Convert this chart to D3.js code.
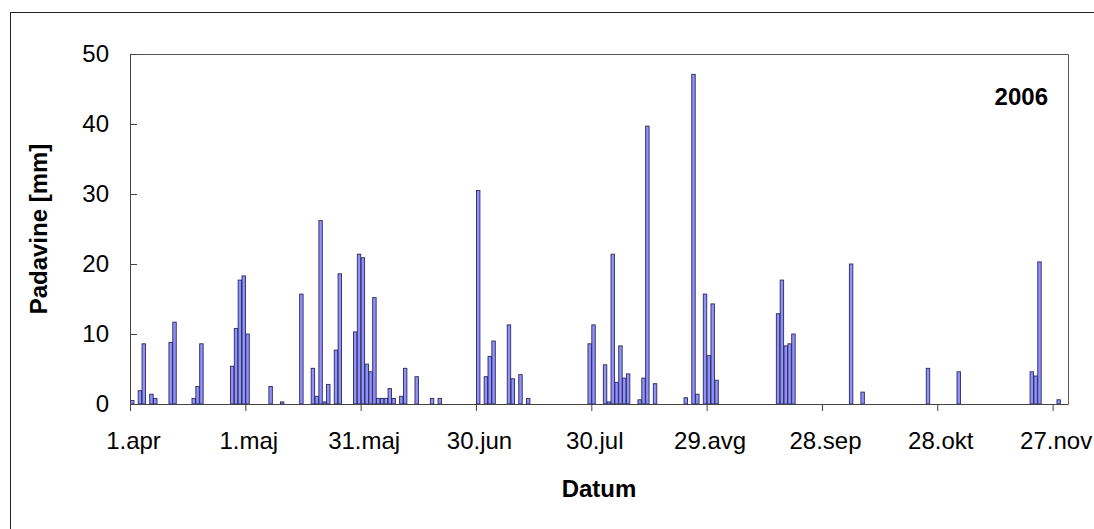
<!DOCTYPE html>
<html>
<head>
<meta charset="utf-8">
<script src="https://cdn.jsdelivr.net/npm/d3@7/dist/d3.min.js"></script>
<style>
  html, body { margin: 0; padding: 0; background: #fff; }
  svg { display: block; font-family: "Liberation Sans", Arial, sans-serif; }
</style>
</head>
<body>
<svg id="chart" width="1094" height="529"></svg>
<script>
// Daily precipitation, 1 April – 30 November 2006 (days without rain omitted)
const rainDates = [
  "2006-04-01","2006-04-03","2006-04-04","2006-04-06","2006-04-07",
  "2006-04-11","2006-04-12","2006-04-17","2006-04-18","2006-04-19",
  "2006-04-27","2006-04-28","2006-04-29","2006-04-30","2006-05-01",
  "2006-05-07","2006-05-10","2006-05-15","2006-05-18","2006-05-19",
  "2006-05-20","2006-05-21","2006-05-22","2006-05-24","2006-05-25",
  "2006-05-29","2006-05-30","2006-05-31","2006-06-01","2006-06-02",
  "2006-06-03","2006-06-04","2006-06-05","2006-06-06","2006-06-07",
  "2006-06-08","2006-06-10","2006-06-11","2006-06-14","2006-06-18",
  "2006-06-20","2006-06-30","2006-07-02","2006-07-03","2006-07-04",
  "2006-07-08","2006-07-09","2006-07-11","2006-07-13","2006-07-29",
  "2006-07-30","2006-08-02","2006-08-03","2006-08-04","2006-08-05",
  "2006-08-06","2006-08-07","2006-08-08","2006-08-11","2006-08-12",
  "2006-08-13","2006-08-15","2006-08-23","2006-08-25","2006-08-26",
  "2006-08-28","2006-08-29","2006-08-30","2006-08-31","2006-09-16",
  "2006-09-17","2006-09-18","2006-09-19","2006-09-20","2006-10-05",
  "2006-10-08","2006-10-25","2006-11-02","2006-11-21","2006-11-22",
  "2006-11-23","2006-11-28"
];
const rainMm = [
  0.5, 1.9, 8.6, 1.4, 0.8,
  8.8, 11.7, 0.8, 2.5, 8.6,
  5.4, 10.8, 17.7, 18.3, 10.0,
  2.5, 0.3, 15.7, 5.1, 1.1,
  26.2, 0.3, 2.8, 7.7, 18.6,
  10.3, 21.4, 20.9, 5.7, 4.6,
  15.2, 0.8, 0.8, 0.8, 2.2,
  0.8, 1.1, 5.1, 3.9, 0.8,
  0.8, 30.5, 3.9, 6.8, 9.0,
  11.3, 3.6, 4.2, 0.8, 8.6,
  11.3, 5.6, 0.3, 21.4, 3.1,
  8.3, 3.7, 4.3, 0.6, 3.7,
  39.7, 2.9, 0.9, 47.1, 1.4,
  15.7, 6.9, 14.3, 3.4, 12.9,
  17.7, 8.3, 8.6, 10.0, 20.0,
  1.7, 5.1, 4.6, 4.6, 4.0,
  20.3, 0.6
];

// Axis ticks
const xTickDates  = ["2006-04-01","2006-05-01","2006-05-31","2006-06-30","2006-07-30",
                     "2006-08-29","2006-09-28","2006-10-28","2006-11-27"];
const xTickLabels = ["1.apr","1.maj","31.maj","30.jun","30.jul","29.avg","28.sep","28.okt","27.nov"];
const yTicks      = [0, 10, 20, 30, 40, 50];

const parse = d3.utcParse("%Y-%m-%d");
const records = rainDates.map((d, i) => ({ date: parse(d), mm: rainMm[i] }));

const svg = d3.select("#chart");
const plot = { left: 130, top: 54, right: 1068, bottom: 404 };

// Outer chart frame
svg.append("rect")
  .attr("x", 10.5).attr("y", 12.5)
  .attr("width", 1200).attr("height", 600)
  .attr("fill", "#fff").attr("stroke", "#222").attr("stroke-width", 1);

const x = d3.scaleUtc()
  .domain([parse("2006-04-01"), parse("2006-12-01")])
  .range([plot.left, plot.right]);
const y = d3.scaleLinear()
  .domain([0, 50])
  .range([plot.bottom, plot.top]);

const daySpan = x(parse("2006-04-02")) - x(parse("2006-04-01"));

// Plot-area frame (top and right edges)
svg.append("path")
  .attr("d", `M${plot.left},${plot.top + 0.5}H${plot.right + 0.5}V${plot.bottom}`)
  .attr("fill", "none").attr("stroke", "#555").attr("stroke-width", 1);

// Bars
svg.append("g")
  .selectAll("rect")
  .data(records)
  .join("rect")
  .attr("x", d => x(d.date) + 0.5)
  .attr("y", d => y(d.mm))
  .attr("width", daySpan - 0.4)
  .attr("height", d => y(0) - y(d.mm))
  .attr("fill", "#9090ff")
  .attr("stroke", "#2a2a55")
  .attr("stroke-width", 0.9);

// Y axis
const yAxis = svg.append("g")
  .attr("transform", `translate(${plot.left},0)`)
  .call(d3.axisLeft(y).tickValues(yTicks).tickSizeInner(-7).tickSizeOuter(0).tickPadding(21));
yAxis.select(".domain").attr("stroke", "#444");
yAxis.selectAll(".tick line").attr("stroke", "#444");
yAxis.selectAll(".tick text")
  .attr("font-size", 24).attr("fill", "#000")
  .attr("font-family", "Liberation Sans, Arial, sans-serif");

// X axis
const xAxis = svg.append("g")
  .attr("transform", `translate(0,${plot.bottom})`)
  .call(d3.axisBottom(x)
    .tickValues(xTickDates.map(parse))
    .tickFormat((d, i) => xTickLabels[i])
    .tickSizeInner(7).tickSizeOuter(0).tickPadding(21));
xAxis.select(".domain").attr("stroke", "#444");
xAxis.selectAll(".tick line").attr("stroke", "#444");
xAxis.selectAll(".tick text")
  .attr("font-size", 24).attr("fill", "#000").attr("dx", 3)
  .attr("font-family", "Liberation Sans, Arial, sans-serif");

// Axis titles
svg.append("text")
  .attr("x", (plot.left + plot.right) / 2)
  .attr("y", 497)
  .attr("text-anchor", "middle")
  .attr("font-size", 24).attr("font-weight", "bold")
  .text("Datum");

svg.append("text")
  .attr("transform", `translate(47,${(plot.top + plot.bottom) / 2}) rotate(-90)`)
  .attr("text-anchor", "middle")
  .attr("font-size", 24).attr("font-weight", "bold")
  .text("Padavine [mm]");

// Year label
svg.append("text")
  .attr("x", 1048).attr("y", 105)
  .attr("text-anchor", "end")
  .attr("font-size", 24).attr("font-weight", "bold")
  .text("2006");
</script>
</body>
</html>
